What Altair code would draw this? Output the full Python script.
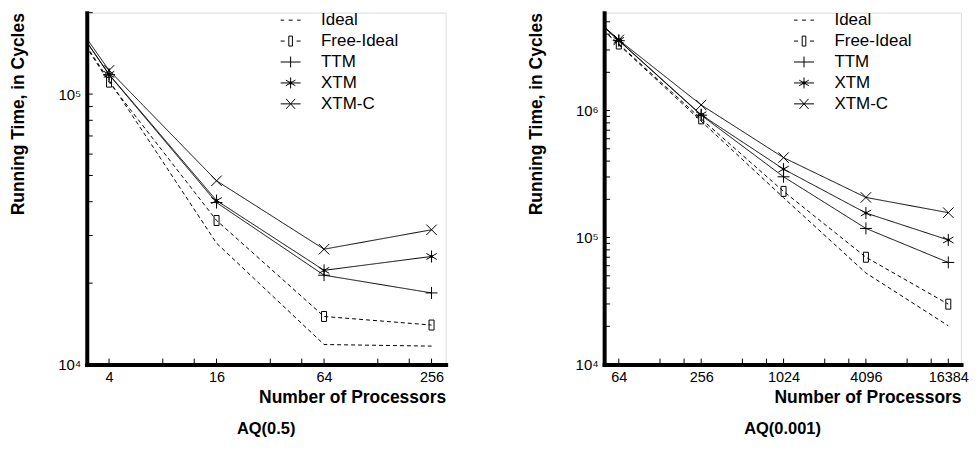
import altair as alt
import pandas as pd

FONT = "Liberation Sans"
SERIES = ["Ideal", "Free-Ideal", "TTM", "XTM", "XTM-C"]

# ---- AQ(0.5) panel data (first point lies left of the visible axis) ----
left_procs = [2, 4, 16, 64, 256]
left_ideal = [2.25e5, 1.124e5, 2.81e4, 1.186e4, 1.17e4]
left_free = [2.25e5, 1.107e5, 3.41e4, 1.506e4, 1.40e4]
left_ttm = [2.3e5, 1.18e5, 3.97e4, 2.14e4, 1.84e4]
left_xtm = [2.3e5, 1.183e5, 4.04e4, 2.23e4, 2.51e4]
left_xtmc = [2.35e5, 1.224e5, 4.78e4, 2.67e4, 3.15e4]

# ---- AQ(0.001) panel data ----
right_procs = [32, 64, 256, 1024, 4096, 16384]
right_ideal = [6.6e6, 3.3e6, 8.25e5, 2.06e5, 5.26e4, 2.02e4]
right_free = [6.6e6, 3.34e6, 8.6e5, 2.31e5, 7.0e4, 2.99e4]
right_ttm = [7.0e6, 3.55e6, 9.2e5, 3.01e5, 1.18e5, 6.37e4]
right_xtm = [7.0e6, 3.57e6, 9.27e5, 3.46e5, 1.56e5, 9.57e4]
right_xtmc = [7.1e6, 3.6e6, 1.107e6, 4.26e5, 2.07e5, 1.57e5]

# ---- ticks ----
left_xticks = [4, 16, 64, 256]
left_xminor = [8, 12, 32, 48, 128, 192]
left_yticks = [1e4, 1e5]
left_yminor = [2e4, 3e4, 4e4, 5e4, 6e4, 7e4, 8e4, 9e4, 2e5]
right_xticks = [64, 256, 1024, 4096, 16384]
right_xminor = [128, 192, 512, 768, 2048, 3072, 8192, 12288]
right_yticks = [1e4, 1e5, 1e6]
right_yminor = [2e4, 3e4, 4e4, 5e4, 6e4, 7e4, 8e4, 9e4,
                2e5, 3e5, 4e5, 5e5, 6e5, 7e5, 8e5, 9e5,
                2e6, 3e6, 4e6, 5e6]

# marker paths in the plot
MARKERS = {
    "Free-Ideal": ("M-0.25,-0.5L0.25,-0.5L0.25,0.5L-0.25,0.5Z", 400),
    "TTM": ("M-1,0L1,0M0,-1L0,1", 144),
    "XTM": ("M0,-1L0,1M-0.87,-0.5L0.87,0.5M-0.87,0.5L0.87,-0.5"
            "M-0.15,-0.15L0.15,-0.15L0.15,0.15L-0.15,0.15Z", 144),
    "XTM-C": ("M-1,-1L1,1M-1,1L1,-1", 110),
}
# legend symbols (line sample + marker)
LEGEND_PATHS = [
    "M-1,0L-0.65,0M-0.2,0L0.2,0M0.65,0L1,0",
    "M-1,0L-0.6,0M0.6,0L1,0M-0.18,-0.5L0.18,-0.5L0.18,0.5L-0.18,0.5Z",
    "M-1,0L1,0M0,-0.55L0,0.55",
    "M-1,0L1,0M0,-0.55L0,0.55M-0.48,-0.28L0.48,0.28M-0.48,0.28L0.48,-0.28"
    "M-0.1,-0.1L0.1,-0.1L0.1,0.1L-0.1,0.1Z",
    "M-1,0L1,0M-0.45,-0.5L0.45,0.5M-0.45,0.5L0.45,-0.5",
]

W, H = 360, 353


def to_df(procs, vals):
    rows = []
    for s, v in zip(SERIES, vals):
        for p, y in zip(procs, v):
            rows.append({"procs": p, "value": y, "series": s})
    return pd.DataFrame(rows)


def panel(procs, vals, xdomain, ydomain, xticks, xminor, yticks, yminor,
          ylabels, title, legend_x, width):
    df = to_df(procs, vals)
    xs = alt.Scale(type="log", base=2, domain=xdomain, nice=False)
    ys = alt.Scale(type="log", domain=ydomain, nice=False)
    lab_expr = " : ".join(
        f"datum.value == {int(v)} ? '{l}'" for v, l in zip(yticks, ylabels)
    ) + " : ''"
    x_axis = alt.Axis(values=xticks, title="Number of Processors", grid=False,
                      ticks=False, domainWidth=4, domainColor="black",
                      domainCap="square", labelFont=FONT, labelFontSize=14.5,
                      labelColor="black", labelPadding=6, labelFlush=False,
                      titleFont=FONT, titleFontSize=17.5, titleFontWeight="bold",
                      titleColor="black", titleAnchor="end", titlePadding=5,
                      format="d")
    y_axis = alt.Axis(values=yticks, labelExpr=lab_expr,
                      title="Running Time, in Cycles", grid=False, ticks=False,
                      domainWidth=4, domainColor="black", domainCap="square",
                      labelFont=FONT, labelFontSize=15, labelColor="black",
                      labelPadding=6, labelFlush=False, titleFont=FONT,
                      titleFontSize=17.5, titleFontWeight="bold",
                      titleColor="black", titleAnchor="end", titlePadding=30)
    X = alt.X("procs:Q", scale=xs, axis=x_axis)
    Y = alt.Y("value:Q", scale=ys, axis=y_axis)

    lines = alt.Chart(df).mark_line(clip=True, strokeWidth=1, color="black").encode(
        x=X, y=Y, detail="series:N",
        strokeDash=alt.StrokeDash(
            "series:N", legend=None,
            scale=alt.Scale(domain=SERIES,
                            range=[[4, 3], [4, 3], [1, 0], [1, 0], [1, 0]])),
    )
    layers = [lines]
    for s, (path, size) in MARKERS.items():
        layers.append(
            alt.Chart(df)
            .transform_filter((alt.datum.series == s) & (alt.datum.procs >= xdomain[0]))
            .mark_point(shape=path, size=size, filled=False, stroke="black",
                        strokeWidth=1, opacity=1, clip=True)
            .encode(x=X, y=Y)
        )
    # legend-only layer (invisible marks; only its legend is shown)
    layers.append(
        alt.Chart(df).transform_filter(alt.datum.procs == procs[1])
        .mark_point(filled=False, stroke="black", strokeWidth=1, opacity=0,
                    size=1, clip=True)
        .encode(
            x=X, y=Y,
            shape=alt.Shape(
                "series:N",
                scale=alt.Scale(domain=SERIES, range=LEGEND_PATHS),
                legend=alt.Legend(
                    title=None, orient="none", legendX=legend_x, legendY=-3,
                    symbolSize=400, symbolStrokeWidth=1,
                    symbolStrokeColor="black", symbolFillColor="transparent",
                    symbolOpacity=1, labelFont=FONT, labelFontSize=17,
                    labelColor="black", labelOffset=20, rowPadding=2,
                    padding=0, labelLimit=200),
            ),
        )
    )
    xt = pd.DataFrame({"procs": xticks + xminor})
    yt = pd.DataFrame({"value": yticks + yminor})
    layers.append(
        alt.Chart(xt).mark_rule(color="black", strokeWidth=1).encode(
            x=X, y=alt.value(H), y2=alt.value(H - 6))
    )
    layers.append(
        alt.Chart(yt).mark_rule(color="black", strokeWidth=1).encode(
            y=Y, x=alt.value(0), x2=alt.value(6))
    )
    return alt.layer(*layers).properties(
        width=width, height=H,
        title=alt.TitleParams(title, orient="bottom", anchor="middle",
                              frame="group", font=FONT, fontSize=16.5,
                              fontWeight="bold", color="black", offset=15),
    ).resolve_scale(shape="independent", strokeDash="independent")


left = panel(left_procs, [left_ideal, left_free, left_ttm, left_xtm, left_xtmc],
             [3, 307], [1e4, 2e5], left_xticks, left_xminor, left_yticks,
             left_yminor, ["10⁴", "10⁵"], "AQ(0.5)", 194, W)
right = panel(right_procs, [right_ideal, right_free, right_ttm, right_xtm, right_xtmc],
              [50, 20300], [1e4, 5.9e6], right_xticks, right_xminor,
              right_yticks, right_yminor, ["10⁴", "10⁵", "10⁶"], "AQ(0.001)", 190,
              W - 2)

chart = alt.hconcat(left, right, spacing=80).resolve_scale(
    x="independent", y="independent", shape="independent",
    strokeDash="independent").resolve_legend(shape="independent").properties(
    padding={"left": 1, "top": 0, "right": 0, "bottom": 0}
).configure_view(strokeWidth=0).configure(font=FONT)

chart.save("out.html", embed_options={"renderer": "svg", "actions": False})
